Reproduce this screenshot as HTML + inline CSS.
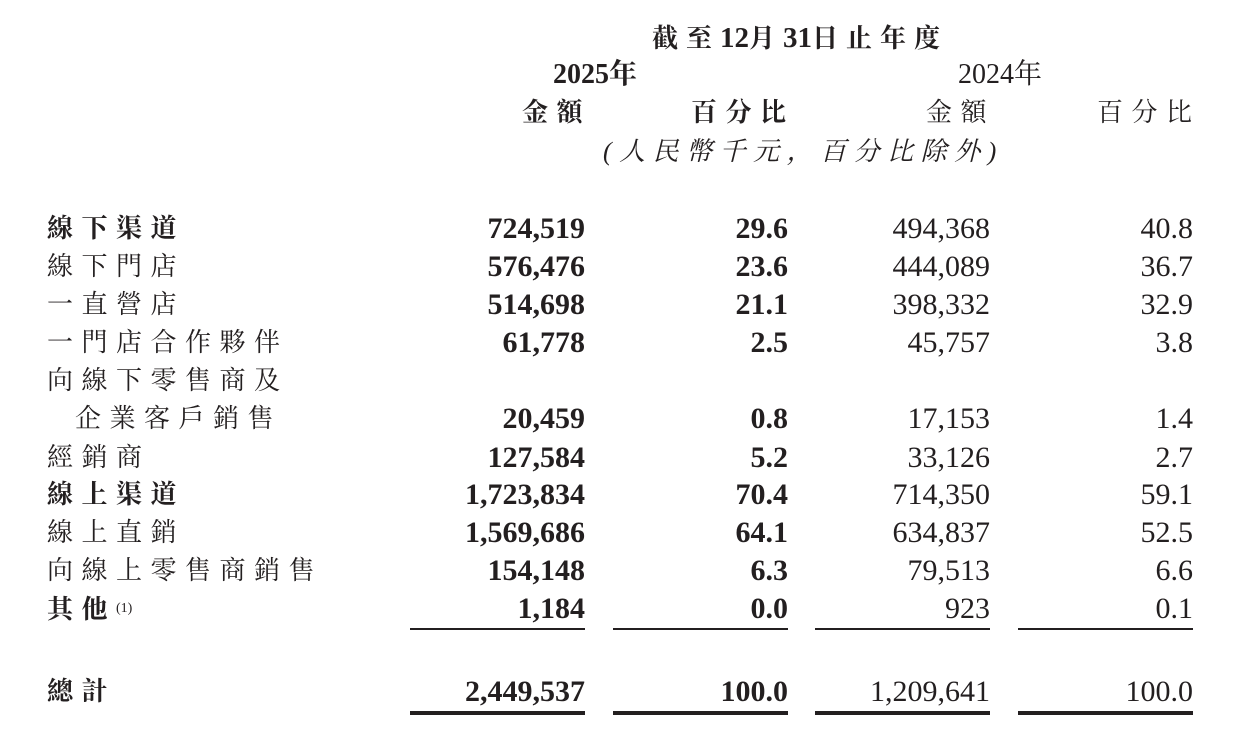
<!DOCTYPE html>
<html><head><meta charset="utf-8"><style>
body{margin:0;width:1250px;height:739px;background:#fff;overflow:hidden;position:relative;color:#231f20}
.t{position:absolute;height:38px;line-height:38px;white-space:nowrap}
.c{font-family:"Liberation Serif","Noto Serif CJK SC","Noto Sans CJK TC",serif;font-size:26px;letter-spacing:8.5px}
.n{font-family:"Liberation Serif",serif;font-size:30px;text-align:right;width:200px}
.b{font-weight:bold}
.l{position:absolute;background:#231f20}
</style></head><body>
<div class="t c b" style="left:652px;top:19px;font-size:26px;letter-spacing:8px">截至<span style="font-family:'Liberation Serif';font-size:29px;letter-spacing:0">12</span>月<span style="font-family:'Liberation Serif';font-size:29px;letter-spacing:0">31</span>日止年度</div>
<div class="t c b" style="left:553px;top:56px;letter-spacing:0;font-size:28px"><span style="font-size:28px">2025</span>年</div>
<div class="t c" style="left:958px;top:56px;letter-spacing:0;font-size:28px"><span style="font-size:28px">2024</span>年</div>
<div class="t c b" style="left:522px;top:94px">金額</div>
<div class="t c b" style="left:691px;top:94px">百分比</div>
<div class="t c" style="left:926px;top:94px">金額</div>
<div class="t c" style="left:1097px;top:94px">百分比</div>
<div class="t c" style="left:603px;top:133px;font-style:italic;letter-spacing:7.5px">(人民幣千元，百分比除外)</div>

<div class="t c b" style="left:47px;top:210px">線下渠道</div>
<div class="t c" style="left:47px;top:248px">線下門店</div>
<div class="t c" style="left:47px;top:286px">一直營店</div>
<div class="t c" style="left:47px;top:324px">一門店合作夥伴</div>
<div class="t c" style="left:47px;top:362px">向線下零售商及</div>
<div class="t c" style="left:75px;top:400px">企業客戶銷售</div>
<div class="t c" style="left:47px;top:439px">經銷商</div>
<div class="t c b" style="left:47px;top:476px">線上渠道</div>
<div class="t c" style="left:47px;top:514px">線上直銷</div>
<div class="t c" style="left:47px;top:552px">向線上零售商銷售</div>
<div class="t c b" style="left:47px;top:590px">其他<span style="font-size:14px;font-weight:normal;vertical-align:6px;letter-spacing:0">(1)</span></div>
<div class="t c b" style="left:47px;top:673px">總計</div>

<div id="rows"></div>
<script>
var d=[[210,"724,519","29.6","494,368","40.8"],[248,"576,476","23.6","444,089","36.7"],[286,"514,698","21.1","398,332","32.9"],[324,"61,778","2.5","45,757","3.8"],[400,"20,459","0.8","17,153","1.4"],[439,"127,584","5.2","33,126","2.7"],[476,"1,723,834","70.4","714,350","59.1"],[514,"1,569,686","64.1","634,837","52.5"],[552,"154,148","6.3","79,513","6.6"],[590,"1,184","0.0","923","0.1"],[673,"2,449,537","100.0","1,209,641","100.0"]];
var R=[585,788,990,1193],h="";
d.forEach(function(r){for(var i=0;i<4;i++){h+='<div class="t n'+(i<2?' b':'')+'" style="left:'+(R[i]-200)+'px;top:'+r[0]+'px">'+r[i+1]+'</div>';}});
R.forEach(function(x){h+='<div class="l" style="left:'+(x-175)+'px;width:175px;top:628px;height:1.5px"></div><div class="l" style="left:'+(x-175)+'px;width:175px;top:711px;height:4px"></div>';});
document.getElementById("rows").innerHTML=h;
</script>
</body></html>
